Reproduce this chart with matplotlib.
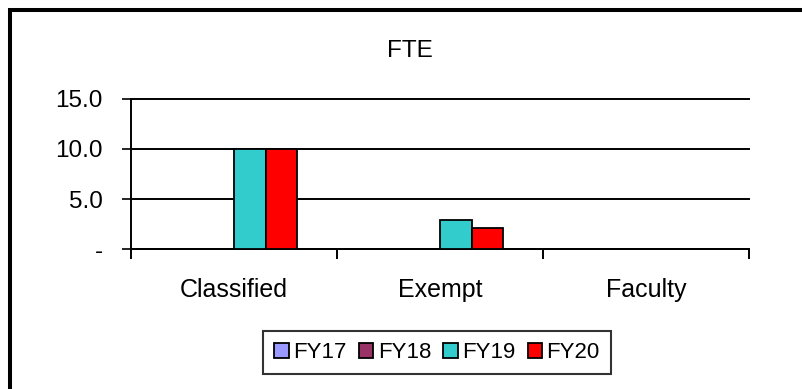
import numpy as np
import matplotlib
matplotlib.use("Agg")
import matplotlib.pyplot as plt
from matplotlib.lines import Line2D

plt.rcParams['font.family'] = ['Liberation Sans', 'DejaVu Sans']

CATEGORIES = ["Classified", "Exempt", "Faculty"]
YEARS = ["FY17", "FY18", "FY19", "FY20"]
FY17 = [0.0, 0.0, 0.0]
FY18 = [0.0, 0.0, 0.0]
FY19 = [10.0, 2.9, 0.0]
FY20 = [10.0, 2.1, 0.0]
YTICKS = [0, 5, 10, 15]
YTICK_LABELS = ["-", "5.0", "10.0", "15.0"]

COLORS = ["#9999FF", "#993366", "#33CCCC", "#FF0000"]
W, H, DPI = 802, 389, 100


def px(x, y):
    # pixel position (from top-left) -> figure fraction
    return x / W, 1 - y / H


fig = plt.figure(figsize=(W / DPI, H / DPI), dpi=DPI)
left, top = px(131, 98.5)
right, bottom = px(749, 249.3)
ax = fig.add_axes([left, bottom, right - left, top - bottom])

x = np.arange(len(CATEGORIES))
bw = 0.153
for i, (vals, color) in enumerate(zip([FY17, FY18, FY19, FY20], COLORS)):
    v = np.array(vals)
    mask = v > 0
    ax.bar(x[mask] + (i - 1.5) * bw, v[mask], width=bw, color=color,
           edgecolor="black", linewidth=1.3, zorder=3)

ax.set_xlim(-0.5, 2.5)
ax.set_ylim(0, 15)
for y in YTICKS:
    ax.axhline(y, color="black", linewidth=1.4, zorder=2, clip_on=False)

ax.set_yticks(YTICKS)
ax.set_yticklabels(YTICK_LABELS, fontsize=17.5)
ax.tick_params(axis="y", length=6.5, width=1.2, pad=14)

ax.set_xticks([-0.5, 0.5, 1.5, 2.5])
ax.set_xticklabels([])
ax.set_xticks(x, minor=True)
ax.set_xticklabels(CATEGORIES, minor=True, fontsize=18)
ax.tick_params(axis="x", which="major", length=7, width=1.4, direction="out")
ax.tick_params(axis="x", which="minor", length=0, pad=21)

for s in ["top", "right"]:
    ax.spines[s].set_visible(False)
ax.spines["left"].set_linewidth(1.4)
ax.spines["bottom"].set_linewidth(1.4)

tx, ty = px(410, 51)
fig.text(tx, ty, "FTE", ha="center", va="center", fontsize=17.5)

handles = [plt.Rectangle((0, 0), 1, 1, facecolor=c, edgecolor="black", linewidth=1.3)
           for c in COLORS]
lx, ly = px(437, 352.5)
leg = fig.legend(handles, YEARS, loc="center", bbox_to_anchor=(lx, ly), ncol=4,
                 fontsize=16, frameon=True, fancybox=False, shadow=False,
                 handlelength=0.65, handleheight=0.65, handletextpad=0.2,
                 columnspacing=0.55, borderpad=0.5, borderaxespad=0.0)
leg.get_frame().set_edgecolor("black")
leg.get_frame().set_linewidth(1.5)

# outer chart border (left and top edges only visible)
bx, by = px(10, 10)
fig.add_artist(Line2D([bx, bx, 1.01], [-0.01, by, by], color="black",
                      linewidth=2.9, transform=fig.transFigure,
                      solid_joinstyle="miter"))

fig.savefig("out.png", dpi=DPI, facecolor="white")
